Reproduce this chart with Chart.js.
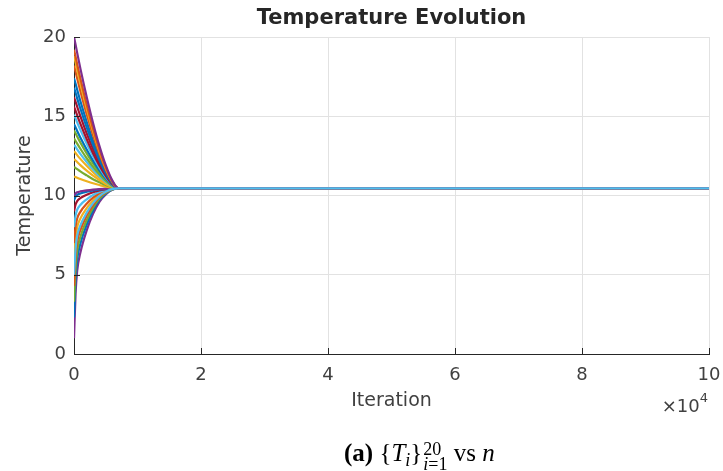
<!DOCTYPE html>
<html>
<head>
<meta charset="utf-8">
<script src="https://cdn.jsdelivr.net/npm/chart.js@4/dist/chart.umd.min.js"></script>
<style>
    html, body { margin: 0; padding: 0; background: #fff; }
    #wrap { position: relative; width: 723px; height: 471px; }
    #chart { position: absolute; left: 0; top: 0; }
    #caption {
        position: absolute; left: 344px; top: 439px;
        font-family: 'Liberation Serif', 'Times New Roman', serif;
        font-size: 25px; color: #000; white-space: nowrap; line-height: 27px;
    }
    .stack { display: inline-block; vertical-align: -9px; font-size: 18px; line-height: 15px; margin-left: 1px; }
    .stack span { display: block; }
</style>
</head>
<body>
<div id="wrap">
    <canvas id="chart" width="723" height="471"></canvas>
    <div id="caption"><b>(a)</b> {<i>T</i><sub style="font-size:18px;vertical-align:-5px;"><i>i</i></sub>}<span class="stack"><span>20</span><span><i>i</i>=1</span></span> vs <i>n</i></div>
</div>
<script>
// x positions of the samples
const iterations = [0, 250, 500, 1000, 2000, 3000, 4000, 5000, 6000, 7000, 100000];

// temperature per node
const T1  = [20.0, 19.52, 19.0, 18.02, 16.22, 14.58, 13.13, 11.91, 10.97, 10.45, 10.45];
const T2  = [19.2, 18.76, 18.28, 17.39, 15.74, 14.23, 12.91, 11.79, 10.92, 10.45, 10.45];
const T3  = [18.8, 18.38, 17.92, 17.07, 15.49, 14.06, 12.8, 11.73, 10.9, 10.45, 10.45];
const T4  = [18.2, 17.81, 17.39, 16.6, 15.13, 13.8, 12.63, 11.64, 10.87, 10.45, 10.45];
const T5  = [17.4, 17.05, 16.67, 15.96, 14.65, 13.45, 12.4, 11.51, 10.83, 10.45, 10.45];
const T6  = [16.8, 16.48, 16.13, 15.49, 14.29, 13.19, 12.23, 11.42, 10.79, 10.45, 10.45];
const T7  = [16.2, 15.91, 15.6, 15.01, 13.92, 12.93, 12.07, 11.33, 10.76, 10.45, 10.45];
const T8  = [15.6, 15.34, 15.06, 14.53, 13.56, 12.67, 11.9, 11.24, 10.73, 10.45, 10.45];
const T9  = [15.1, 14.87, 14.61, 14.14, 13.26, 12.46, 11.76, 11.16, 10.7, 10.45, 10.45];
const T10 = [14.5, 14.3, 14.07, 13.66, 12.9, 12.2, 11.59, 11.07, 10.67, 10.45, 10.45];
const T11 = [14.1, 13.92, 13.72, 13.34, 12.65, 12.03, 11.48, 11.01, 10.65, 10.45, 10.45];
const T12 = [13.6, 13.44, 13.27, 12.95, 12.35, 11.81, 11.34, 10.93, 10.62, 10.45, 10.45];
const T13 = [13.2, 13.06, 12.91, 12.63, 12.11, 11.64, 11.22, 10.87, 10.6, 10.45, 10.45];
const T14 = [12.8, 12.68, 12.55, 12.31, 11.87, 11.47, 11.11, 10.81, 10.58, 10.45, 10.45];
const T15 = [12.3, 12.21, 12.11, 11.92, 11.57, 11.25, 10.97, 10.73, 10.55, 10.45, 10.45];
const T16 = [11.8, 11.73, 11.66, 11.52, 11.27, 11.03, 10.83, 10.66, 10.52, 10.45, 10.45];
const T17 = [11.2, 11.16, 11.12, 11.04, 10.9, 10.77, 10.66, 10.56, 10.49, 10.45, 10.45];
const T18 = [10.0, 10.13, 10.2, 10.26, 10.32, 10.37, 10.41, 10.43, 10.45, 10.45, 10.45];
const T19 = [9.7, 9.93, 10.04, 10.13, 10.24, 10.32, 10.38, 10.42, 10.44, 10.45, 10.45];
const T20 = [9.0, 9.43, 9.65, 9.83, 10.04, 10.2, 10.32, 10.39, 10.44, 10.45, 10.45];
const T21 = [8.0, 8.73, 9.1, 9.4, 9.76, 10.03, 10.23, 10.35, 10.43, 10.45, 10.45];
const T22 = [7.0, 8.03, 8.55, 8.97, 9.48, 9.86, 10.14, 10.31, 10.42, 10.45, 10.45];
const T23 = [6.0, 7.33, 8.0, 8.54, 9.2, 9.69, 10.05, 10.27, 10.41, 10.45, 10.45];
const T24 = [5.0, 6.63, 7.45, 8.11, 8.92, 9.52, 9.96, 10.23, 10.4, 10.45, 10.45];
const T25 = [4.3, 6.14, 7.07, 7.81, 8.73, 9.4, 9.9, 10.2, 10.39, 10.45, 10.45];
const T26 = [3.3, 5.45, 6.52, 7.38, 8.45, 9.23, 9.81, 10.16, 10.38, 10.45, 10.45];
const T27 = [2.3, 4.74, 5.97, 6.95, 8.17, 9.06, 9.72, 10.12, 10.37, 10.45, 10.45];
const T28 = [1.0, 3.83, 5.25, 6.39, 7.8, 8.84, 9.6, 10.07, 10.36, 10.45, 10.45];

const allSeries = [T1, T2, T3, T4, T5, T6, T7, T8, T9, T10, T11, T12, T13, T14,
                   T15, T16, T17, T18, T19, T20, T21, T22, T23, T24, T25, T26, T27, T28];

const xTicks = [0, 20000, 40000, 60000, 80000, 100000];
const yTicks = [0, 5, 10, 15, 20];

// matlab line colours
const blue = '#0072BD', orange = '#D95319', yellow = '#EDB120', purple = '#7E2F8E',
      green = '#77AC30', cyan = '#4DBEEE', red = '#A2142F';
const lineColors = [purple, orange, yellow, orange, blue, blue, red, red, cyan, blue,
                    green, green, cyan, yellow, yellow, green, yellow, purple, blue, red,
                    cyan, orange, yellow, cyan, orange, green, blue, purple];

const axisColor = '#262626';

const datasets = allSeries.map((s, i) => ({
    data: s.map((v, k) => ({ x: iterations[k], y: v })),
    borderColor: lineColors[i],
    borderWidth: 2.2,
    pointRadius: 0,
    cubicInterpolationMode: 'monotone',
    order: i === 23 ? 0 : 1
}));

const overlay = {
    id: 'overlay',
    afterDraw(chart) {
        const { ctx, chartArea: a, scales } = chart;
        ctx.save();
        // matlab style ticks pointing inwards
        ctx.strokeStyle = axisColor;
        ctx.lineWidth = 1;
        xTicks.forEach(v => {
            const px = Math.round(scales.x.getPixelForValue(v)) + 0.5;
            ctx.beginPath(); ctx.moveTo(px, a.bottom); ctx.lineTo(px, a.bottom - 6); ctx.stroke();
        });
        yTicks.forEach(v => {
            const py = Math.round(scales.y.getPixelForValue(v)) + 0.5;
            ctx.beginPath(); ctx.moveTo(a.left, py); ctx.lineTo(a.left + 6, py); ctx.stroke();
        });

        ctx.fillStyle = axisColor;
        ctx.textAlign = 'center';
        ctx.textBaseline = 'middle';
        ctx.font = 'bold 21px "DejaVu Sans"';
        ctx.fillText('Temperature Evolution', (a.left + a.right) / 2, 19);

        ctx.font = '19px "DejaVu Sans"';
        ctx.fillStyle = '#404040';
        ctx.fillText('Iteration', (a.left + a.right) / 2, 401);

        ctx.save();
        ctx.translate(25, (a.top + a.bottom) / 2);
        ctx.rotate(-Math.PI / 2);
        ctx.fillText('Temperature', 0, 0);
        ctx.restore();

        // exponent label
        ctx.textAlign = 'right';
        ctx.textBaseline = 'alphabetic';
        ctx.font = '13px "DejaVu Sans"';
        ctx.fillText('4', 708, 402);
        const w4 = ctx.measureText('4').width;
        ctx.font = '18px "DejaVu Sans"';
        ctx.fillText('\u00d710', 708 - w4, 412);
        ctx.restore();
    }
};

new Chart(document.getElementById('chart'), {
    type: 'line',
    data: { datasets },
    options: {
        responsive: false,
        animation: false,
        layout: { padding: { top: 37, right: 14, left: 0, bottom: 0 } },
        plugins: { legend: { display: false }, tooltip: { enabled: false }, title: { display: false } },
        scales: {
            x: {
                type: 'linear', min: 0, max: 100000,
                afterBuildTicks: s => { s.ticks = xTicks.map(v => ({ value: v })); },
                afterFit: s => { s.height = 117; s.paddingLeft = 0; s.paddingRight = 0; },
                grid: { color: '#e2e2e2', drawTicks: false },
                border: { display: true, color: axisColor, width: 1 },
                ticks: {
                    padding: 11, color: '#404040', maxRotation: 0,
                    font: { family: 'DejaVu Sans', size: 18 },
                    callback: v => String(v / 10000)
                }
            },
            y: {
                min: 0, max: 20,
                afterBuildTicks: s => { s.ticks = yTicks.map(v => ({ value: v })); },
                afterFit: s => { s.width = 74; s.paddingTop = 0; s.paddingBottom = 0; },
                grid: { color: '#e2e2e2', drawTicks: false },
                border: { display: true, color: axisColor, width: 1 },
                ticks: {
                    padding: 8, color: '#404040',
                    font: { family: 'DejaVu Sans', size: 18 }
                }
            }
        }
    },
    plugins: [overlay]
});
</script>
</body>
</html>
